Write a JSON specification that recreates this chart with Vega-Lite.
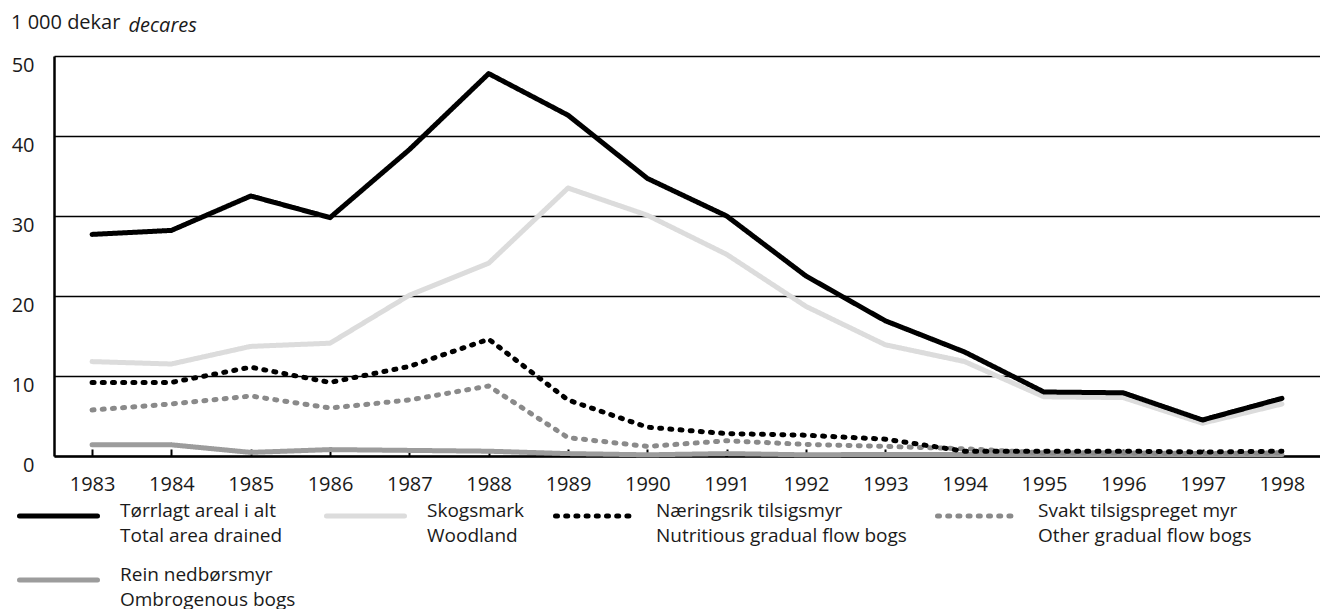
{
  "$schema": "https://vega.github.io/schema/vega-lite/v6.json",
  "width": 1266,
  "height": 400,
  "autosize": {"type": "none"},
  "padding": {"left": 54, "top": 56, "right": 0, "bottom": 153},
  "title": {"text": "1 000 dekar", "anchor": "start", "frame": "group", "dx": -43, "offset": -34, "baseline": "alphabetic", "fontSize": 20, "font": "Open Sans", "fontWeight": "normal", "color": "#1a1a1a"},
  "config": {"view": {"stroke": null}, "font": "Open Sans"},
  "data": {"values": [
    {"year": "1983", "series": "Skogsmark|Woodland", "value": 11.8},
    {"year": "1984", "series": "Skogsmark|Woodland", "value": 11.5},
    {"year": "1985", "series": "Skogsmark|Woodland", "value": 13.7},
    {"year": "1986", "series": "Skogsmark|Woodland", "value": 14.1},
    {"year": "1987", "series": "Skogsmark|Woodland", "value": 20.1},
    {"year": "1988", "series": "Skogsmark|Woodland", "value": 24.1},
    {"year": "1989", "series": "Skogsmark|Woodland", "value": 33.5},
    {"year": "1990", "series": "Skogsmark|Woodland", "value": 30.1},
    {"year": "1991", "series": "Skogsmark|Woodland", "value": 25.2},
    {"year": "1992", "series": "Skogsmark|Woodland", "value": 18.7},
    {"year": "1993", "series": "Skogsmark|Woodland", "value": 13.9},
    {"year": "1994", "series": "Skogsmark|Woodland", "value": 11.8},
    {"year": "1995", "series": "Skogsmark|Woodland", "value": 7.4},
    {"year": "1996", "series": "Skogsmark|Woodland", "value": 7.3},
    {"year": "1997", "series": "Skogsmark|Woodland", "value": 4.1},
    {"year": "1998", "series": "Skogsmark|Woodland", "value": 6.5},
    {"year": "1983", "series": "Rein nedbørsmyr|Ombrogenous bogs", "value": 1.4},
    {"year": "1984", "series": "Rein nedbørsmyr|Ombrogenous bogs", "value": 1.4},
    {"year": "1985", "series": "Rein nedbørsmyr|Ombrogenous bogs", "value": 0.45},
    {"year": "1986", "series": "Rein nedbørsmyr|Ombrogenous bogs", "value": 0.8},
    {"year": "1987", "series": "Rein nedbørsmyr|Ombrogenous bogs", "value": 0.7},
    {"year": "1988", "series": "Rein nedbørsmyr|Ombrogenous bogs", "value": 0.6},
    {"year": "1989", "series": "Rein nedbørsmyr|Ombrogenous bogs", "value": 0.3},
    {"year": "1990", "series": "Rein nedbørsmyr|Ombrogenous bogs", "value": 0.15},
    {"year": "1991", "series": "Rein nedbørsmyr|Ombrogenous bogs", "value": 0.3},
    {"year": "1992", "series": "Rein nedbørsmyr|Ombrogenous bogs", "value": 0.15},
    {"year": "1993", "series": "Rein nedbørsmyr|Ombrogenous bogs", "value": 0.2},
    {"year": "1994", "series": "Rein nedbørsmyr|Ombrogenous bogs", "value": 0.2},
    {"year": "1995", "series": "Rein nedbørsmyr|Ombrogenous bogs", "value": 0.2},
    {"year": "1996", "series": "Rein nedbørsmyr|Ombrogenous bogs", "value": 0.2},
    {"year": "1997", "series": "Rein nedbørsmyr|Ombrogenous bogs", "value": 0.2},
    {"year": "1998", "series": "Rein nedbørsmyr|Ombrogenous bogs", "value": 0.2},
    {"year": "1983", "series": "Svakt tilsigspreget myr|Other gradual flow bogs", "value": 5.75},
    {"year": "1984", "series": "Svakt tilsigspreget myr|Other gradual flow bogs", "value": 6.5},
    {"year": "1985", "series": "Svakt tilsigspreget myr|Other gradual flow bogs", "value": 7.5},
    {"year": "1986", "series": "Svakt tilsigspreget myr|Other gradual flow bogs", "value": 6.0},
    {"year": "1987", "series": "Svakt tilsigspreget myr|Other gradual flow bogs", "value": 7.0},
    {"year": "1988", "series": "Svakt tilsigspreget myr|Other gradual flow bogs", "value": 8.75},
    {"year": "1989", "series": "Svakt tilsigspreget myr|Other gradual flow bogs", "value": 2.3},
    {"year": "1990", "series": "Svakt tilsigspreget myr|Other gradual flow bogs", "value": 1.2},
    {"year": "1991", "series": "Svakt tilsigspreget myr|Other gradual flow bogs", "value": 1.9},
    {"year": "1992", "series": "Svakt tilsigspreget myr|Other gradual flow bogs", "value": 1.45},
    {"year": "1993", "series": "Svakt tilsigspreget myr|Other gradual flow bogs", "value": 1.2},
    {"year": "1994", "series": "Svakt tilsigspreget myr|Other gradual flow bogs", "value": 0.9},
    {"year": "1995", "series": "Svakt tilsigspreget myr|Other gradual flow bogs", "value": 0.4},
    {"year": "1996", "series": "Svakt tilsigspreget myr|Other gradual flow bogs", "value": 0.4},
    {"year": "1997", "series": "Svakt tilsigspreget myr|Other gradual flow bogs", "value": 0.3},
    {"year": "1998", "series": "Svakt tilsigspreget myr|Other gradual flow bogs", "value": 0.4},
    {"year": "1983", "series": "Næringsrik tilsigsmyr|Nutritious gradual flow bogs", "value": 9.2},
    {"year": "1984", "series": "Næringsrik tilsigsmyr|Nutritious gradual flow bogs", "value": 9.2},
    {"year": "1985", "series": "Næringsrik tilsigsmyr|Nutritious gradual flow bogs", "value": 11.1},
    {"year": "1986", "series": "Næringsrik tilsigsmyr|Nutritious gradual flow bogs", "value": 9.2},
    {"year": "1987", "series": "Næringsrik tilsigsmyr|Nutritious gradual flow bogs", "value": 11.2},
    {"year": "1988", "series": "Næringsrik tilsigsmyr|Nutritious gradual flow bogs", "value": 14.6},
    {"year": "1989", "series": "Næringsrik tilsigsmyr|Nutritious gradual flow bogs", "value": 7.0},
    {"year": "1990", "series": "Næringsrik tilsigsmyr|Nutritious gradual flow bogs", "value": 3.6},
    {"year": "1991", "series": "Næringsrik tilsigsmyr|Nutritious gradual flow bogs", "value": 2.8},
    {"year": "1992", "series": "Næringsrik tilsigsmyr|Nutritious gradual flow bogs", "value": 2.6},
    {"year": "1993", "series": "Næringsrik tilsigsmyr|Nutritious gradual flow bogs", "value": 2.1},
    {"year": "1994", "series": "Næringsrik tilsigsmyr|Nutritious gradual flow bogs", "value": 0.6},
    {"year": "1995", "series": "Næringsrik tilsigsmyr|Nutritious gradual flow bogs", "value": 0.6},
    {"year": "1996", "series": "Næringsrik tilsigsmyr|Nutritious gradual flow bogs", "value": 0.6},
    {"year": "1997", "series": "Næringsrik tilsigsmyr|Nutritious gradual flow bogs", "value": 0.5},
    {"year": "1998", "series": "Næringsrik tilsigsmyr|Nutritious gradual flow bogs", "value": 0.6},
    {"year": "1983", "series": "Tørrlagt areal i alt|Total area drained", "value": 27.7},
    {"year": "1984", "series": "Tørrlagt areal i alt|Total area drained", "value": 28.2},
    {"year": "1985", "series": "Tørrlagt areal i alt|Total area drained", "value": 32.5},
    {"year": "1986", "series": "Tørrlagt areal i alt|Total area drained", "value": 29.8},
    {"year": "1987", "series": "Tørrlagt areal i alt|Total area drained", "value": 38.3},
    {"year": "1988", "series": "Tørrlagt areal i alt|Total area drained", "value": 47.8},
    {"year": "1989", "series": "Tørrlagt areal i alt|Total area drained", "value": 42.6},
    {"year": "1990", "series": "Tørrlagt areal i alt|Total area drained", "value": 34.7},
    {"year": "1991", "series": "Tørrlagt areal i alt|Total area drained", "value": 30.0},
    {"year": "1992", "series": "Tørrlagt areal i alt|Total area drained", "value": 22.5},
    {"year": "1993", "series": "Tørrlagt areal i alt|Total area drained", "value": 16.9},
    {"year": "1994", "series": "Tørrlagt areal i alt|Total area drained", "value": 13.0},
    {"year": "1995", "series": "Tørrlagt areal i alt|Total area drained", "value": 8.0},
    {"year": "1996", "series": "Tørrlagt areal i alt|Total area drained", "value": 7.9},
    {"year": "1997", "series": "Tørrlagt areal i alt|Total area drained", "value": 4.5},
    {"year": "1998", "series": "Tørrlagt areal i alt|Total area drained", "value": 7.2}
  ]},
  "mark": {"type": "line", "strokeWidth": 5, "strokeCap": "round", "strokeJoin": "round"},
  "encoding": {
    "x": {
      "field": "year", "type": "ordinal",
      "scale": {"type": "point", "padding": 0.48},
      "axis": {"title": null, "labelAngle": 0, "labelFontSize": 20, "labelColor": "#1a1a1a", "labelFont": "Open Sans",
               "domainColor": "black", "domainWidth": 2.5, "tickColor": "black", "tickWidth": 2, "tickSize": -7,
               "labelPadding": 25, "grid": false}
    },
    "y": {
      "field": "value", "type": "quantitative",
      "scale": {"domain": [0, 50]},
      "axis": {"title": "decares", "titleAngle": 0, "titleAlign": "left", "titleBaseline": "alphabetic",
               "titleX": 74, "titleY": -25, "titleFontStyle": "italic", "titleFontWeight": "normal",
               "titleFontSize": 20, "titleColor": "#1a1a1a", "titleFont": "Open Sans",
               "values": [0, 10, 20, 30, 40, 50], "ticks": false, "labelPadding": 20, "labelOffset": 9,
               "labelFontSize": 20, "labelColor": "#1a1a1a", "labelFont": "Open Sans",
               "domainColor": "black", "domainWidth": 2.5,
               "grid": true, "gridColor": "black", "gridWidth": 1.5, "gridOpacity": 1}
    },
    "color": {
      "field": "series", "type": "nominal",
      "scale": {
        "domain": ["Tørrlagt areal i alt|Total area drained", "Skogsmark|Woodland", "Næringsrik tilsigsmyr|Nutritious gradual flow bogs", "Svakt tilsigspreget myr|Other gradual flow bogs", "Rein nedbørsmyr|Ombrogenous bogs"],
        "range": ["#000000", "#dcdcdc", "#000000", "#8a8a8a", "#9c9c9c"]
      },
      "legend": {
        "title": null, "orient": "none", "legendX": -37, "legendY": 435, "columns": 4, "direction": "horizontal",
        "symbolType": "stroke", "symbolSize": 6084, "symbolStrokeWidth": 5, "clipHeight": 50,
        "labelFontSize": 19, "labelFont": "Open Sans", "labelColor": "#1a1a1a", "labelOffset": 20, "labelLimit": 500,
        "columnPadding": 28, "rowPadding": 9, "padding": 0,
        "labelExpr": "split(datum.label, '|')",
        "encode": {
          "symbols": {"update": {"strokeCap": {"value": "round"}}},
          "labels": {"update": {"lineHeight": {"value": 25}, "dy": {"value": -5}}}
        }
      }
    },
    "strokeDash": {
      "field": "series", "type": "nominal",
      "scale": {
        "domain": ["Tørrlagt areal i alt|Total area drained", "Skogsmark|Woodland", "Næringsrik tilsigsmyr|Nutritious gradual flow bogs", "Svakt tilsigspreget myr|Other gradual flow bogs", "Rein nedbørsmyr|Ombrogenous bogs"],
        "range": [[1, 0], [1, 0], [2, 8.2], [2, 8.2], [1, 0]]
      },
      "legend": {
        "title": null, "orient": "none", "legendX": -37, "legendY": 435, "columns": 4, "direction": "horizontal",
        "symbolType": "stroke", "symbolSize": 6084, "symbolStrokeWidth": 5, "clipHeight": 50,
        "labelFontSize": 19, "labelFont": "Open Sans", "labelColor": "#1a1a1a", "labelOffset": 20, "labelLimit": 500,
        "columnPadding": 28, "rowPadding": 9, "padding": 0,
        "labelExpr": "split(datum.label, '|')",
        "encode": {
          "symbols": {"update": {"strokeCap": {"value": "round"}}},
          "labels": {"update": {"lineHeight": {"value": 25}, "dy": {"value": -5}}}
        }
      }
    }
  }
}
